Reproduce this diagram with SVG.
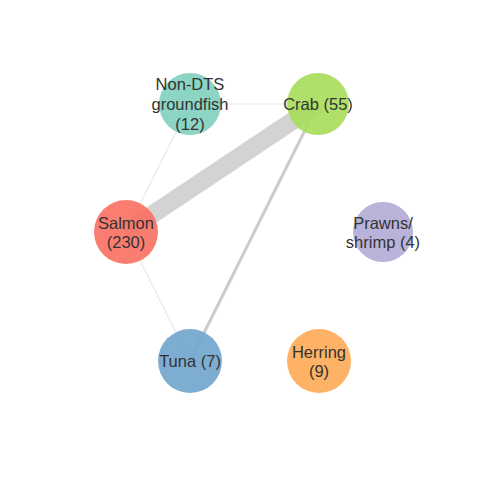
<svg xmlns="http://www.w3.org/2000/svg" width="480" height="480" viewBox="0 0 480 480">
<style>
.edge{stroke-linecap:butt;fill:none}
.node circle{fill-opacity:0.9}
.node text{font-family:"Liberation Sans",Arial,sans-serif;font-size:16.5px;fill:#333;text-anchor:middle}
</style>
<rect width="480" height="480" fill="#fff"/>
<g id="edges">
<line class="edge" x1="190" y1="104" x2="318" y2="104" stroke="#e8e8e8" stroke-width="1.2"/>
<line class="edge" x1="190" y1="104" x2="126" y2="232" stroke="#e8e8e8" stroke-width="1.2"/>
<line class="edge" x1="126" y1="232" x2="190" y2="361" stroke="#e8e8e8" stroke-width="1.2"/>
<line class="edge" x1="318" y1="104" x2="190" y2="361" stroke="#cccccc" stroke-width="3"/>
<line class="edge" x1="126" y1="232" x2="318" y2="104" stroke="#d3d3d3" stroke-width="18"/>
</g>
<g id="node-nondts" class="node">
<circle cx="190" cy="104" r="31" fill="#80cfbd"/>
<text x="190" y="90">Non-DTS</text>
<text x="190" y="110">groundfish</text>
<text x="190" y="130">(12)</text>
</g>
<g id="node-crab" class="node">
<circle cx="318" cy="104" r="31" fill="#a7dd59"/>
<text x="318" y="110">Crab (55)</text>
</g>
<g id="node-salmon" class="node">
<circle cx="126" cy="232" r="32" fill="#f96f63"/>
<text x="126" y="229">Salmon</text>
<text x="126" y="248">(230)</text>
</g>
<g id="node-prawns" class="node">
<circle cx="383" cy="232" r="30" fill="#b1abd6"/>
<text x="383" y="229">Prawns/</text>
<text x="383" y="248">shrimp (4)</text>
</g>
<g id="node-tuna" class="node">
<circle cx="190" cy="361" r="32" fill="#70a4cd"/>
<text x="190" y="367">Tuna (7)</text>
</g>
<g id="node-herring" class="node">
<circle cx="319" cy="361" r="32" fill="#fdaa55"/>
<text x="319" y="358">Herring</text>
<text x="319" y="377">(9)</text>
</g>
</svg>
